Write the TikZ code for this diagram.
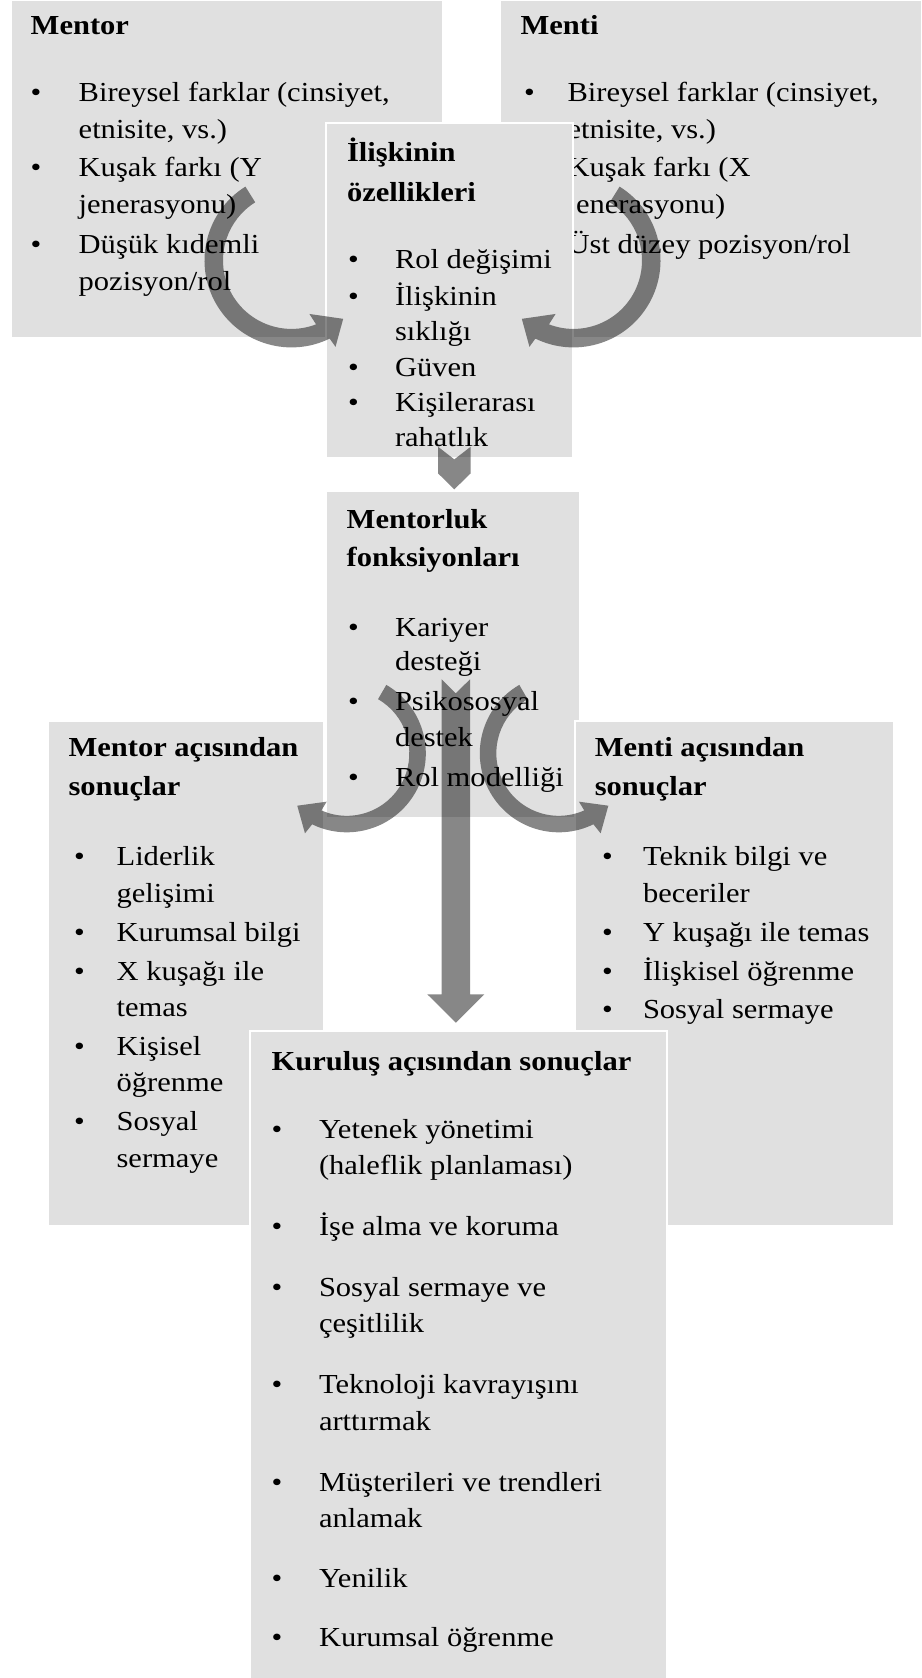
\documentclass[tikz,border=0pt]{standalone}
\usepackage{fontspec}
\setmainfont{Liberation Serif}[FakeStretch=1.11]
\definecolor{boxgray}{RGB}{224,224,224}
\newcommand{\txtline}[4]{\node[txt] (#1) at (#2,#3) {#4};}
\newcommand{\ttlline}[4]{\node[ttl] (#1) at (#2,#3) {#4};}
\newcommand{\bul}[3]{\node[txt] (#1) at (#2,#3) {\textbullet};}
\begin{document}
\begin{tikzpicture}[x=1pt,y=-1pt,
  panel/.style={draw=white, line width=1.5pt, fill=boxgray, anchor=north west, inner sep=0pt, outer sep=0pt},
  txt/.style={anchor=base west, inner sep=0pt, outer sep=0pt, font=\fontsize{27.5}{33}\selectfont},
  ttl/.style={txt, font=\fontsize{27.5}{33}\selectfont\bfseries},
  arrowfill/.style={fill=black, fill opacity=0.47}]
\useasboundingbox (0,0) rectangle (921,1678);
\fill[white] (0,0) rectangle (921,1678);

% Mentor
\node[panel, minimum width=432pt, minimum height=338pt] (mentor) at (11,0) {};
\ttlline{mt}{30.7}{34.3}{Mentor}
\bul{mb1}{30.7}{101.7}\bul{mb2}{30.7}{176.7}\bul{mb3}{30.7}{253.3}
\txtline{m1}{78.7}{101.7}{Bireysel farklar (cinsiyet,}
\txtline{m2}{78.7}{138.3}{etnisite, vs.)}
\txtline{m3}{78.7}{176.7}{Kuşak farkı (Y}
\txtline{m4}{78.7}{213.3}{jenerasyonu)}
\txtline{m5}{78.7}{253.3}{Düşük kıdemli}
\txtline{m6}{78.7}{290}{pozisyon/rol}

% Menti
\node[panel, minimum width=422pt, minimum height=338pt] (menti) at (500,0) {};
\ttlline{nt}{520.6}{34.3}{Menti}
\bul{nb1}{524}{101.7}\bul{nb2}{524}{176.7}\bul{nb3}{524}{253.3}
\txtline{n1}{567.6}{101.7}{Bireysel farklar (cinsiyet,}
\txtline{n2}{567.6}{138.3}{etnisite, vs.)}
\txtline{n3}{567.6}{176.7}{Kuşak farkı (X}
\txtline{n4}{567.6}{213.3}{jenerasyonu)}
\txtline{n5}{567.6}{253.3}{Üst düzey pozisyon/rol}

% Iliskinin ozellikleri
\node[panel, minimum width=247pt, minimum height=335pt] (iliski) at (326,123) {};
\ttlline{it1}{347}{161.7}{İlişkinin}
\ttlline{it2}{347}{201.7}{özellikleri}
\bul{ib1}{348}{268.3}\bul{ib2}{348}{305.7}\bul{ib3}{348}{376}\bul{ib4}{348}{411.7}
\txtline{i1}{395}{268.3}{Rol değişimi}
\txtline{i2}{395}{305.7}{İlişkinin}
\txtline{i3}{395}{340}{sıklığı}
\txtline{i4}{395}{376}{Güven}
\txtline{i5}{395}{411.7}{Kişilerarası}
\txtline{i6}{395}{446}{rahatlık}

% Mentorluk fonksiyonlari
\node[panel, minimum width=254pt, minimum height=327pt] (fonk) at (326,491) {};
\ttlline{ft1}{346.7}{528.3}{Mentorluk}
\ttlline{ft2}{346.7}{566.7}{fonksiyonları}
\bul{fb1}{348}{636}\bul{fb2}{348}{710}\bul{fb3}{348}{786}
\txtline{f1}{395}{636}{Kariyer}
\txtline{f2}{395}{670.7}{desteği}
\txtline{f3}{395}{710}{Psikososyal}
\txtline{f4}{395}{746.7}{destek}
\txtline{f5}{395}{786}{Rol modelliği}

% Mentor acisindan sonuclar
\node[panel, minimum width=276pt, minimum height=505pt] (mres) at (48,721) {};
\ttlline{at1}{68.5}{756.7}{Mentor açısından}
\ttlline{at2}{68.5}{795}{sonuçlar}
\bul{ab1}{74}{865}\bul{ab2}{74}{941.7}\bul{ab3}{74}{980}\bul{ab4}{74}{1055}\bul{ab5}{74}{1130}
\txtline{a1}{116.6}{865}{Liderlik}
\txtline{a2}{116.6}{902}{gelişimi}
\txtline{a3}{116.6}{941.7}{Kurumsal bilgi}
\txtline{a4}{116.6}{980}{X kuşağı ile}
\txtline{a5}{116.6}{1016.5}{temas}
\txtline{a6}{116.6}{1055}{Kişisel}
\txtline{a7}{116.6}{1091.7}{öğrenme}
\txtline{a8}{116.6}{1130}{Sosyal}
\txtline{a9}{116.6}{1167}{sermaye}

% Menti acisindan sonuclar
\node[panel, minimum width=319pt, minimum height=505pt] (nres) at (575,721) {};
\ttlline{bt1}{594.8}{756.7}{Menti açısından}
\ttlline{bt2}{594.8}{795}{sonuçlar}
\bul{bb1}{602}{865}\bul{bb2}{602}{941.7}\bul{bb3}{602}{980}\bul{bb4}{602}{1018.3}
\txtline{b1}{643}{865}{Teknik bilgi ve}
\txtline{b2}{643}{902}{beceriler}
\txtline{b3}{643}{941.7}{Y kuşağı ile temas}
\txtline{b4}{643}{980}{İlişkisel öğrenme}
\txtline{b5}{643}{1018.3}{Sosyal sermaye}

% Kurulus acisindan sonuclar
\node[panel, minimum width=417pt, minimum height=648pt] (kres) at (250,1031) {};
\ttlline{kt}{271.7}{1070}{Kuruluş açısından sonuçlar}
\bul{kb1}{271.7}{1138}\bul{kb2}{271.7}{1235.3}\bul{kb3}{271.7}{1296.3}\bul{kb4}{271.7}{1393.6}
\bul{kb5}{271.7}{1491}\bul{kb6}{271.7}{1587.2}\bul{kb7}{271.7}{1646.5}
\txtline{k1}{319}{1138}{Yetenek yönetimi}
\txtline{k2}{319}{1174.3}{(haleflik planlaması)}
\txtline{k3}{319}{1235.3}{İşe alma ve koruma}
\txtline{k4}{319}{1296.3}{Sosyal sermaye ve}
\txtline{k5}{319}{1332.6}{çeşitlilik}
\txtline{k6}{319}{1393.6}{Teknoloji kavrayışını}
\txtline{k7}{319}{1430}{arttırmak}
\txtline{k8}{319}{1491}{Müşterileri ve trendleri}
\txtline{k9}{319}{1527.3}{anlamak}
\txtline{k10}{319}{1587.2}{Yenilik}
\txtline{k11}{319}{1646.5}{Kurumsal öğrenme}

% Arrows
\coordinate (ulc) at (291.5,260.4);
\coordinate (urc) at (573.5,260.4);
\coordinate (llc) at (346.8,753.3);
\coordinate (lrc) at (558.8,753.3);

\fill[arrowfill, shift={(ulc)}] (238:87) arc[start angle=238, end angle=64, radius=87]
  -- (63:97) -- (48.5:78) -- (71.5:56.5) -- (69:68.5)
  arc[start angle=69, end angle=238, radius=68.5] -- cycle;
\fill[arrowfill, shift={(urc)}] (-58:87) arc[start angle=-58, end angle=116, radius=87]
  -- (117:97) -- (131.5:78) -- (108.5:56.5) -- (111:68.5)
  arc[start angle=111, end angle=-58, radius=68.5] -- cycle;
\fill[arrowfill, shift={(llc)}] (-60:79) arc[start angle=-60, end angle=116, radius=79]
  -- (117.6:90.3) -- (133.4:72.1) -- (112.6:52.4) -- (114:62.5)
  arc[start angle=114, end angle=-60, radius=62.5] -- cycle;
\fill[arrowfill, shift={(lrc)}] (240:79) arc[start angle=240, end angle=64, radius=79]
  -- (62.4:90.3) -- (46.6:72.1) -- (67.4:52.4) -- (66:62.5)
  arc[start angle=66, end angle=240, radius=62.5] -- cycle;

% small chevron from iliski to fonk
\fill[arrowfill] (438,446.7) -- (454.3,459.4) -- (470.7,446.7) -- (470.7,473.3)
  -- (454.3,489.3) -- (438,473.3) -- cycle;
% long notched arrow from fonk to kres
\fill[arrowfill] (441.7,679.3) -- (455.8,693.3) -- (470,679.3) -- (470,994.3)
  -- (484.3,994.3) -- (455.8,1022.7) -- (427.3,994.3) -- (441.7,994.3) -- cycle;
\end{tikzpicture}
\end{document}
